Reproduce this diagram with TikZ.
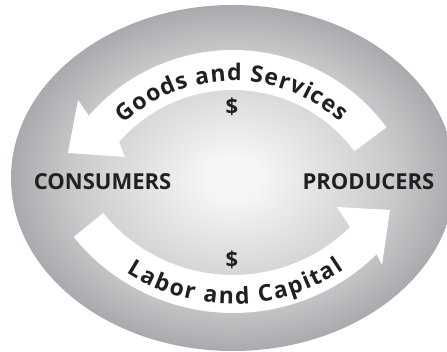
\documentclass[tikz,border=0pt]{standalone}
\usepackage{fontspec}
\setmainfont{Open Sans}
\usetikzlibrary{calc,decorations.text}
\definecolor{ink}{HTML}{231F20}
\definecolor{bgin}{HTML}{F6F6F6}
\definecolor{bgmid}{HTML}{C9CACC}
\definecolor{bgout}{HTML}{A9AAAD}
\pgfdeclareradialshading{bgshade}{\pgfpoint{0bp}{0bp}}{color(0bp)=(bgin); color(3bp)=(bgin); color(18bp)=(bgmid); color(25bp)=(bgout); color(50bp)=(bgout)}
\newcommand\arcfont{\bfseries\fontsize{23}{23}\selectfont}
\tikzset{
  lbl/.style={font=\bfseries\fontsize{22}{22}\selectfont, text=ink, inner sep=0pt},
  band/.style={fill=white, draw=none},
  arctext/.style={decorate, decoration={text along path, text color=ink, text align={fit to path}, text={|\arcfont|#1}}}
}
\begin{document}
\begin{tikzpicture}[x=1pt,y=1pt]
\useasboundingbox (0,0) rectangle (447,352);
\shade[shading=bgshade] (233,174) ellipse[x radius=222, y radius=173];
\coordinate (C1) at (233,111);
\coordinate (C2) at (233,244);
% top arrow: Goods and Services (right to left)
\fill[band] ($(C1)+(36.5:191)$) arc[start angle=36.5, end angle=139, radius=191]
  -- (78,252) -- (68,199) -- (125,195) -- ($(C1)+(139:151)$)
  arc[start angle=139, end angle=36.5, radius=151] -- cycle;
% bottom arrow: Labor and Capital (left to right)
\fill[band] ($(C2)+(219:205)$) arc[start angle=219, end angle=314.5, radius=205]
  -- (382,87) -- (390,142) -- (337,145) -- ($(C2)+(314.5:167)$)
  arc[start angle=314.5, end angle=219, radius=167] -- cycle;
\path[arctext={Goods and Services}] ($(C1)+(133:160)$) arc[start angle=133, end angle=48, radius=160];
\path[arctext={Labor and Capital}] ($(C2)+(237:196)$) arc[start angle=237, end angle=304.5, radius=196];
\node[lbl] (cons) at (102.5,170.5) {CONSUMERS};
\node[lbl] (prod) at (368.5,170.5) {PRODUCERS};
\node[lbl] (dtop) at (232,245) {\$};
\node[lbl] (dbot) at (232,92) {\$};
\end{tikzpicture}
\end{document}
